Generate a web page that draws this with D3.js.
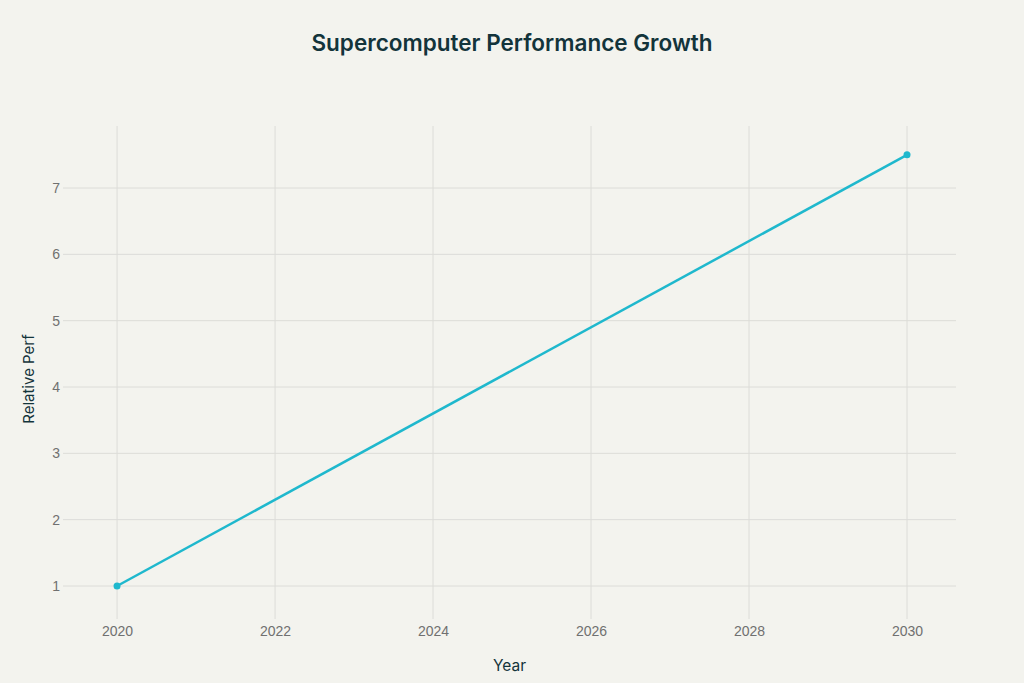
<!DOCTYPE html>
<html>
<head>
<meta charset="utf-8">
<script src="https://cdn.jsdelivr.net/npm/d3@7"></script>
<style>
  body { margin: 0; background: #f3f3ee; }
  svg { display: block; font-family: Inter, "Liberation Sans", sans-serif; }
  .grid line { stroke: #dcdcd8; stroke-width: 1; }
  .tick text { fill: #707070; font-size: 14px; }
</style>
</head>
<body>
<div class="chart"></div>
<script>
const width = 1024;
const height = 683;

// data
const years = [2020, 2030];
const perf = [1, 7.5];
const xTicks = [2020, 2022, 2024, 2026, 2028, 2030];
const yTicks = [1, 2, 3, 4, 5, 6, 7];

const plot = { left: 63, right: 956, top: 126, bottom: 619 };

const svg = d3.select('.chart').append('svg')
    .attr('width', width)
    .attr('height', height)
    .attr('viewBox', `0 0 ${width} ${height}`);

svg.append('rect')
    .attr('width', width)
    .attr('height', height)
    .attr('fill', '#f3f3ee');

const xScale = d3.scaleLinear()
    .domain([2019.316, 2030.62])
    .range([plot.left, plot.right]);
const yScale = d3.scaleLinear()
    .domain([0.5025, 7.935])
    .range([plot.bottom, plot.top]);

/*      grid lines      */
svg.append('g')
    .attr('class', 'grid')
    .selectAll('line')
    .data(xTicks)
    .enter()
    .append('line')
    .attr('x1', d => xScale(d))
    .attr('x2', d => xScale(d))
    .attr('y1', plot.top)
    .attr('y2', plot.bottom);
svg.append('g')
    .attr('class', 'grid')
    .selectAll('line')
    .data(yTicks)
    .enter()
    .append('line')
    .attr('x1', plot.left)
    .attr('x2', plot.right)
    .attr('y1', d => yScale(d))
    .attr('y2', d => yScale(d));

/*      axes (labels only)      */
const xAxis = svg.append('g')
    .attr('transform', `translate(0, ${plot.bottom})`)
    .call(d3.axisBottom(xScale).tickValues(xTicks).tickFormat(d3.format('d')).tickSize(0).tickPadding(7));
xAxis.select('.domain').remove();

const yAxis = svg.append('g')
    .attr('transform', `translate(${plot.left}, 0)`)
    .call(d3.axisLeft(yScale).tickValues(yTicks).tickSize(0).tickPadding(3));
yAxis.select('.domain').remove();

/*      line and points     */
const points = years.map((y, i) => ({ year: y, value: perf[i] }));
const line = d3.line()
    .x(d => xScale(d.year))
    .y(d => yScale(d.value));
svg.append('path')
    .datum(points)
    .attr('fill', 'none')
    .attr('stroke', '#1fb8cd')
    .attr('stroke-width', 2.5)
    .attr('d', line);
svg.selectAll('.dot')
    .data(points)
    .enter()
    .append('circle')
    .attr('class', 'dot')
    .attr('cx', d => xScale(d.year))
    .attr('cy', d => yScale(d.value))
    .attr('r', 3.5)
    .attr('fill', '#1fb8cd');

/*      titles      */
svg.append('text')
    .attr('x', width / 2)
    .attr('y', 51)
    .attr('text-anchor', 'middle')
    .attr('fill', '#13343b')
    .attr('font-size', 22.5)
    .attr('font-weight', 600)
    .text('Supercomputer Performance Growth');

svg.append('text')
    .attr('x', (plot.left + plot.right) / 2)
    .attr('y', 671)
    .attr('text-anchor', 'middle')
    .attr('fill', '#13343b')
    .attr('font-size', 15.5)
    .text('Year');

svg.append('text')
    .attr('transform', `translate(34, 379) rotate(-90)`)
    .attr('text-anchor', 'middle')
    .attr('fill', '#13343b')
    .attr('font-size', 15)
    .text('Relative Perf');
</script>
</body>
</html>
